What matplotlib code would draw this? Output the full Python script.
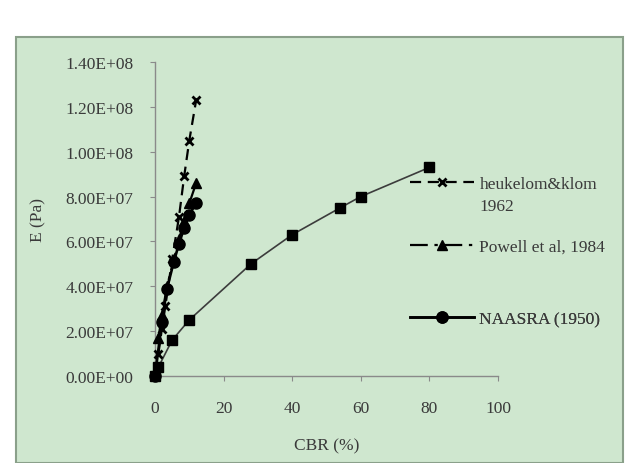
import matplotlib
matplotlib.use("Agg")
import matplotlib.pyplot as plt
from matplotlib.patches import Rectangle
from matplotlib.ticker import FuncFormatter

# ---- data --------------------------------------------------------------------
heuk_cbr = [1, 2, 3, 5, 7, 8.5, 10, 12]
heuk_e   = [1.0e7, 2.1e7, 3.1e7, 5.2e7, 7.1e7, 8.9e7, 1.05e8, 1.23e8]

powell_cbr = [1, 2, 3.5, 5.5, 7, 8.5, 10, 12]
powell_e   = [1.7e7, 2.7e7, 4.0e7, 5.2e7, 6.1e7, 6.9e7, 7.7e7, 8.6e7]

naasra_cbr = [0, 2, 3.5, 5.5, 7, 8.5, 10, 12]
naasra_e   = [0, 2.4e7, 3.9e7, 5.1e7, 5.9e7, 6.6e7, 7.2e7, 7.7e7]

sq_cbr = [0, 1, 5, 10, 28, 40, 54, 60, 80]
sq_e   = [0, 0.4e7, 1.6e7, 2.5e7, 5.0e7, 6.3e7, 7.5e7, 8.0e7, 9.3e7]

x_ticks = [0, 20, 40, 60, 80, 100]
y_ticks = [0, 2e7, 4e7, 6e7, 8e7, 1e8, 1.2e8, 1.4e8]

TXT = "#3a3a3a"
GREEN = "#cfe7cf"
FS = 12.5
plt.rcParams["font.family"] = ["Liberation Serif", "DejaVu Serif"]
plt.rcParams["font.size"] = FS

fig = plt.figure(figsize=(6.25, 4.64), dpi=100, facecolor="white")
fig.patches.append(Rectangle((16 / 625, 0), 607 / 625, (464 - 38) / 464,
                             transform=fig.transFigure, facecolor=GREEN,
                             edgecolor="#8aa08a", lw=1.5, zorder=-10))

ax = fig.add_axes([155 / 625, (464 - 377) / 464, 343 / 625, 314 / 464])
ax.set_facecolor("none")

ax.plot(sq_cbr, sq_e, color="#3c3c3c", lw=1.2, marker="s", ms=6.5,
        mfc="black", mec="black", clip_on=False, zorder=3)
l_heuk, = ax.plot(heuk_cbr, heuk_e, color="black", lw=1.6, ls=(0, (5, 3)),
                  marker="x", ms=5.5, mew=2, clip_on=False, zorder=4)
l_pow, = ax.plot(powell_cbr, powell_e, color="black", lw=1.6,
                 ls=(0, (8, 3, 1.5, 3)), marker="^", ms=7, clip_on=False, zorder=4)
l_naa, = ax.plot(naasra_cbr, naasra_e, color="black", lw=1.9, marker="o", ms=8,
                 clip_on=False, zorder=5)

ax.set_xlim(0, 100)
ax.set_ylim(0, 1.4e8)
ax.set_xticks(x_ticks)
ax.set_yticks(y_ticks)
ax.yaxis.set_major_formatter(FuncFormatter(lambda v, p: f"{v:.2E}"))
for s in ("top", "right"):
    ax.spines[s].set_visible(False)
for s in ("left", "bottom"):
    ax.spines[s].set_color("#8a8a8a")
    ax.spines[s].set_linewidth(1.0)
ax.tick_params(axis="both", direction="out", length=3.5, color="#8a8a8a",
               labelcolor=TXT, labelsize=FS)
ax.tick_params(axis="y", pad=12)
ax.tick_params(axis="x", pad=14)

ax.set_xlabel("CBR (%)", color=TXT, fontsize=FS, labelpad=15)
ax.set_ylabel("E (Pa)", color=TXT, fontsize=FS, labelpad=14)

# legend entries sit at uneven heights, so one small legend each
entries = [(l_heuk, "heukelom&klom", 185), (l_pow, "Powell et al, 1984", 248),
           (l_naa, "NAASRA (1950)", 320)]
legs = []
for h, lab, ypx in entries:
    lg = ax.legend([h], [lab], loc="center left",
                   bbox_to_anchor=(410 / 625, 1 - ypx / 464),
                   bbox_transform=fig.transFigure, frameon=False, fontsize=FS,
                   handlelength=3.7, handletextpad=0.3, borderpad=0,
                   borderaxespad=0)
    lg.get_texts()[0].set_color(TXT)
    ax.add_artist(lg)
    legs.append(lg)

# second line of the heukelom label, lined up under the first
fig.canvas.draw()
x0 = legs[0].get_texts()[0].get_window_extent().x0
fig.text(x0 / fig.bbox.width, 1 - 207 / 464, "1962", color=TXT, fontsize=FS,
         ha="left", va="center")

fig.savefig("out.png", dpi=100, facecolor="white")
